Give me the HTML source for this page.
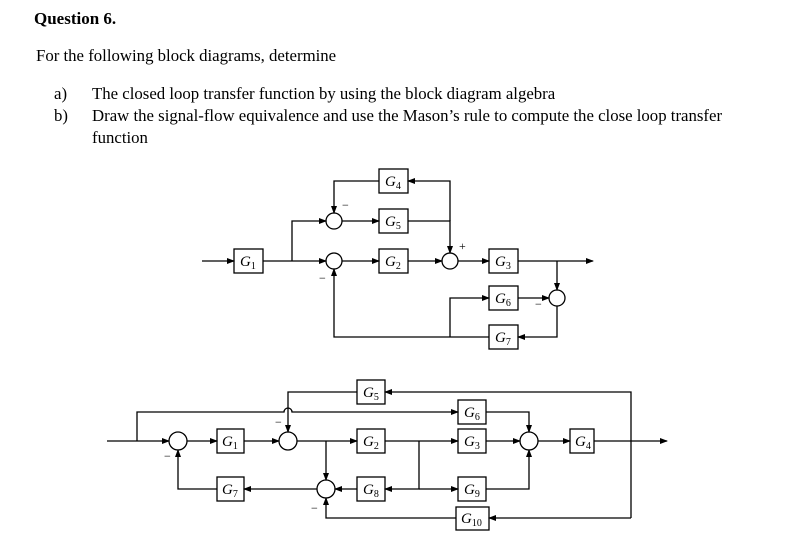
<!DOCTYPE html>
<html><head><meta charset="utf-8"><style>
html,body{margin:0;padding:0;background:#fff;}
body{width:804px;height:552px;position:relative;overflow:hidden;font-family:"Liberation Serif",serif;color:#000;}
.t{position:absolute;font-size:16.8px;white-space:nowrap;line-height:1;}
svg{position:absolute;left:0;top:0;}
svg text{font-family:"Liberation Serif",serif;font-style:italic;}
</style></head><body>
<div class="t" style="left:34px;top:10px;font-weight:bold;font-size:17px;">Question 6.</div>
<div class="t" style="left:36px;top:48px;">For the following block diagrams, determine</div>
<div class="t" style="left:54px;top:86px;">a)</div>
<div class="t" style="left:92px;top:86px;">The closed loop transfer function by using the block diagram algebra</div>
<div class="t" style="left:54px;top:108px;">b)</div>
<div class="t" style="left:92px;top:108px;">Draw the signal-flow equivalence and use the Mason’s rule to compute the close loop transfer</div>
<div class="t" style="left:92px;top:130px;">function</div>
<svg width="804" height="552" viewBox="0 0 804 552">
<defs><marker id="a" markerWidth="8" markerHeight="6" refX="7" refY="3" orient="auto" markerUnits="userSpaceOnUse"><path d="M0,0 L8,3 L0,6 z" fill="#000"/></marker></defs>
<g stroke="#000" stroke-width="1.3" fill="none">
<path d="M202,261 H234" marker-end="url(#a)"/>
<path d="M263,261 H326" marker-end="url(#a)"/>
<path d="M292,261 V221 H326" marker-end="url(#a)"/>
<path d="M342,221 H379" marker-end="url(#a)"/>
<path d="M379,181 H334 V213" marker-end="url(#a)"/>
<path d="M408,221 H450 V253" marker-end="url(#a)"/>
<path d="M450,221 V181 H408" marker-end="url(#a)"/>
<path d="M342,261 H379" marker-end="url(#a)"/>
<path d="M408,261 H442" marker-end="url(#a)"/>
<path d="M458,261 H489" marker-end="url(#a)"/>
<path d="M518,261 H593" marker-end="url(#a)"/>
<path d="M557,261 V290" marker-end="url(#a)"/>
<path d="M518,298 H549" marker-end="url(#a)"/>
<path d="M450,337 V298 H489" marker-end="url(#a)"/>
<path d="M557,306 V337 H518" marker-end="url(#a)"/>
<path d="M489,337 H334 V269" marker-end="url(#a)"/>
<circle cx="334" cy="221" r="8"/><circle cx="334" cy="261" r="8"/><circle cx="450" cy="261" r="8"/><circle cx="557" cy="298" r="8"/>
<rect x="234" y="249" width="29" height="24"/>
<rect x="379" y="169" width="29" height="24"/>
<rect x="379" y="209" width="29" height="24"/>
<rect x="379" y="249" width="29" height="24"/>
<rect x="489" y="249" width="29" height="24"/>
<rect x="489" y="286" width="29" height="24"/>
<rect x="489" y="325" width="29" height="24"/>
<path d="M107,441 H169" marker-end="url(#a)"/>
<path d="M137,441 V412 H284 A4,4 0 0 1 292,412 H458" marker-end="url(#a)"/>
<path d="M187,441 H217" marker-end="url(#a)"/>
<path d="M244,441 H279" marker-end="url(#a)"/>
<path d="M297,441 H357" marker-end="url(#a)"/>
<path d="M326,441 V480" marker-end="url(#a)"/>
<path d="M357,392 H288 V432" marker-end="url(#a)"/>
<path d="M385,441 H458" marker-end="url(#a)"/>
<path d="M419,441 V489 H385" marker-end="url(#a)"/>
<path d="M419,489 H458" marker-end="url(#a)"/>
<path d="M486,441 H520" marker-end="url(#a)"/>
<path d="M486,412 H529 V432" marker-end="url(#a)"/>
<path d="M486,489 H529 V450" marker-end="url(#a)"/>
<path d="M538,441 H570" marker-end="url(#a)"/>
<path d="M594,441 H667" marker-end="url(#a)"/>
<path d="M631,518 V392 H385" marker-end="url(#a)"/>
<path d="M631,518 H489" marker-end="url(#a)"/>
<path d="M456,518 H326 V498" marker-end="url(#a)"/>
<path d="M357,489 H335" marker-end="url(#a)"/>
<path d="M317,489 H244" marker-end="url(#a)"/>
<path d="M217,489 H178 V450" marker-end="url(#a)"/>
<circle cx="178" cy="441" r="9"/><circle cx="288" cy="441" r="9"/><circle cx="529" cy="441" r="9"/><circle cx="326" cy="489" r="9"/>
<rect x="217" y="429" width="27" height="24"/>
<rect x="357" y="380" width="28" height="24"/>
<rect x="357" y="429" width="28" height="24"/>
<rect x="357" y="477" width="28" height="24"/>
<rect x="458" y="400" width="28" height="24"/>
<rect x="458" y="429" width="28" height="24"/>
<rect x="458" y="477" width="28" height="24"/>
<rect x="570" y="429" width="24" height="24"/>
<rect x="456" y="507" width="33" height="23"/>
<rect x="217" y="477" width="27" height="24"/>
</g>
<g font-size="15" fill="#000">
<text x="240" y="266">G<tspan font-size="10" font-style="normal" dy="3">1</tspan></text>
<text x="385" y="186">G<tspan font-size="10" font-style="normal" dy="3">4</tspan></text>
<text x="385" y="226">G<tspan font-size="10" font-style="normal" dy="3">5</tspan></text>
<text x="385" y="266">G<tspan font-size="10" font-style="normal" dy="3">2</tspan></text>
<text x="495" y="266">G<tspan font-size="10" font-style="normal" dy="3">3</tspan></text>
<text x="495" y="303">G<tspan font-size="10" font-style="normal" dy="3">6</tspan></text>
<text x="495" y="342">G<tspan font-size="10" font-style="normal" dy="3">7</tspan></text>
<text x="222" y="446">G<tspan font-size="10" font-style="normal" dy="3">1</tspan></text>
<text x="363" y="397">G<tspan font-size="10" font-style="normal" dy="3">5</tspan></text>
<text x="363" y="446">G<tspan font-size="10" font-style="normal" dy="3">2</tspan></text>
<text x="363" y="494">G<tspan font-size="10" font-style="normal" dy="3">8</tspan></text>
<text x="464" y="417">G<tspan font-size="10" font-style="normal" dy="3">6</tspan></text>
<text x="464" y="446">G<tspan font-size="10" font-style="normal" dy="3">3</tspan></text>
<text x="464" y="494">G<tspan font-size="10" font-style="normal" dy="3">9</tspan></text>
<text x="575" y="446">G<tspan font-size="10" font-style="normal" dy="3">4</tspan></text>
<text x="461" y="523">G<tspan font-size="10" font-style="normal" dy="3">10</tspan></text>
<text x="222" y="494">G<tspan font-size="10" font-style="normal" dy="3">7</tspan></text>
</g>
<g font-size="12" fill="#000">
<text x="342" y="209" style="font-style:normal">−</text>
<text x="319" y="282" style="font-style:normal">−</text>
<text x="459" y="250" style="font-style:normal">+</text>
<text x="535" y="308" style="font-style:normal">−</text>
<text x="275" y="426" style="font-style:normal">−</text>
<text x="164" y="460" style="font-style:normal">−</text>
<text x="311" y="512" style="font-style:normal">−</text>
</g>
</svg>
</body></html>
